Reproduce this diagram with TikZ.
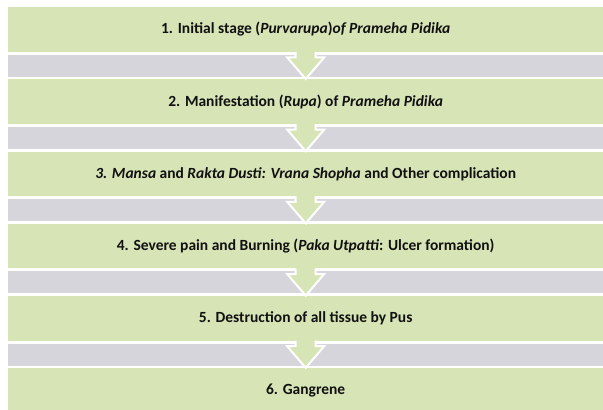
\documentclass[tikz,border=0pt]{standalone}
\usepackage{fontspec}
\setmainfont{Carlito}
\usetikzlibrary{calc}
\definecolor{stageg}{HTML}{D7E4B6}
\definecolor{bandg}{HTML}{D5D5DB}
\definecolor{txt}{HTML}{111111}
\tikzset{
  stagebox/.style={fill=stageg, draw=none, minimum width=595pt, minimum height=44.5pt,
    inner sep=0pt, anchor=north west, font=\fontsize{15.5}{17}\selectfont\bfseries, text=txt},
  bandbox/.style={fill=bandg, draw=none, minimum width=595pt, minimum height=22pt,
    inner sep=0pt, anchor=north west},
  arrowfill/.style={fill=stageg, draw=none},
  arrowedge/.style={draw=white, line width=2pt, line join=miter}
}
\newcommand{\flowarrow}[2]{%
  \path[arrowfill] ($(#1.south)+(-10pt,0.6pt)$) -- ($(#1.south)+(-10pt,-5.5pt)$)
    -- ($(#1.south)+(-18.5pt,-5.5pt)$) -- ($(#2.north)+(0,0.2pt)$)
    -- ($(#1.south)+(18.5pt,-5.5pt)$) -- ($(#1.south)+(10pt,-5.5pt)$)
    -- ($(#1.south)+(10pt,0.6pt)$) -- cycle;
  \draw[arrowedge] ($(#1.south)+(-10pt,0pt)$) -- ($(#1.south)+(-10pt,-5.5pt)$)
    -- ($(#1.south)+(-18.5pt,-5.5pt)$) -- ($(#2.north)+(0,0.2pt)$)
    -- ($(#1.south)+(18.5pt,-5.5pt)$) -- ($(#1.south)+(10pt,-5.5pt)$)
    -- ($(#1.south)+(10pt,0pt)$);
}
\begin{document}
\begin{tikzpicture}[x=1pt,y=1pt]
\useasboundingbox[fill=white] (0,0) rectangle (603,-410);
% grey bands
\node[bandbox] (g1) at (8,-54.5) {};
\node[bandbox] (g2) at (8,-126.7) {};
\node[bandbox] (g3) at (8,-198.9) {};
\node[bandbox] (g4) at (8,-271.1) {};
\node[bandbox] (g5) at (8,-343.3) {};
% stages
\node[stagebox] (s1) at (8,-7) {1. Initial stage (\textit{Purvarupa})\textit{of Prameha Pidika}};
\node[stagebox] (s2) at (8,-79.2) {2. Manifestation (\textit{Rupa}) of \textit{Prameha Pidika}};
\node[stagebox] (s3) at (8,-151.4) {\textit{3. Mansa} and \textit{Rakta Dusti: Vrana Shopha} and Other complication};
\node[stagebox] (s4) at (8,-223.6) {4. Severe pain and Burning (\textit{Paka Utpatti}: Ulcer formation)};
\node[stagebox] (s5) at (8,-295.8) {5. Destruction of all tissue by Pus};
\node[stagebox, minimum height=44pt] (s6) at (8,-368) {6. Gangrene};
% arrows
\flowarrow{s1}{s2}
\flowarrow{s2}{s3}
\flowarrow{s3}{s4}
\flowarrow{s4}{s5}
\flowarrow{s5}{s6}
\end{tikzpicture}
\end{document}
